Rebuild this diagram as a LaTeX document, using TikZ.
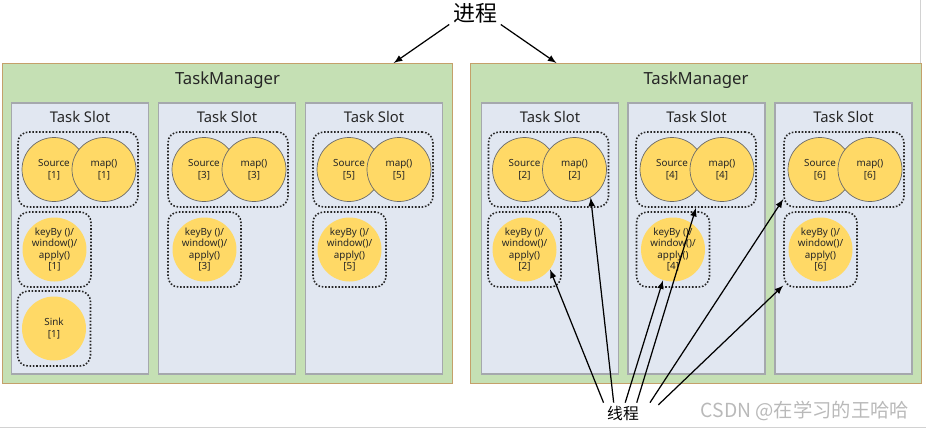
\documentclass[tikz,border=0pt]{standalone}
\usepackage{fontspec}
\setmainfont{Noto Sans}
\newfontfamily\cjk{Noto Sans CJK SC}
\definecolor{tmgreen}{HTML}{C5E0B4}
\definecolor{tmborder}{HTML}{C4A06A}
\definecolor{slotfill}{HTML}{E1E7F1}
\definecolor{slotborder}{HTML}{A5A8AD}
\definecolor{opfill}{HTML}{FFD966}
\definecolor{opborder}{HTML}{6B6B6B}
\definecolor{txt}{HTML}{262626}
\tikzset{>=latex,
    manager/.style={draw=tmborder,fill=tmgreen,line width=0.6pt,
        minimum width=9.02cm,minimum height=6.4cm},
    slot/.style={draw=slotborder,fill=slotfill,line width=0.8pt,
        minimum width=2.74cm,minimum height=5.42cm},
    chain/.style={draw=black!85,densely dotted,line width=0.9pt,rounded corners=6pt,
        minimum width=2.4cm,minimum height=1.5cm},
    group/.style={chain,minimum width=1.46cm},
    op/.style={circle,fill=opfill,draw=opborder,line width=0.4pt,minimum size=1.28cm,
        inner sep=0pt,align=center,text=txt,font=\fontsize{5.6}{6.6}\selectfont},
    solo/.style={op,draw=none},
    title/.style={text=txt,font=\fontsize{8.4}{10}\selectfont},
    thread/.style={->,line width=0.7pt},
    }

\begin{document}
\begin{tikzpicture}[x=0.02cm,y=-0.02cm]
	\useasboundingbox (0,0) rectangle (926,430);
	\draw[gray!35] (0,427) -- (926,427);
	\draw[gray!35] (920,0) -- (920,64);
	% process
	\node[inner sep=2pt,font=\cjk\fontsize{12.5}{14}\selectfont] (p) at (475,13) {进程};
	% left TaskManager
	\node[manager] (tm1) at (227.5,223.5) {};
	\node[text=txt,font=\fontsize{9.5}{11}\selectfont] (n1) at (227.5,80) {TaskManager};
	\node[slot] (s1) at (80,238.5) {};
	\node[slot] (s3) at (227,238.5) {};
	\node[slot] (s5) at (374,238.5) {};
	\node[title] (l1) at (80,117) {Task Slot};
	\node[title] (l3) at (227,117) {Task Slot};
	\node[title] (l5) at (374,117) {Task Slot};
	\node[chain] (g1) at (78,169.5) {};
	\node[op] (r1) at (54,169.5) {Source\\{[1]}};
	\node[op] (m1) at (104,169.5) {map()\\{[1]}};
	\node[group] (h1) at (54.5,249.5) {};
	\node[solo] (k1) at (54.5,249.5) {keyBy ()/\\window()/\\apply()\\{[1]}};
	\node[group] (h0) at (54,328.5) {};
	\node[solo] (z1) at (54,328.5) {Sink\\{[1]}};
	\node[chain] (g3) at (228,169.5) {};
	\node[op] (r3) at (204,169.5) {Source\\{[3]}};
	\node[op] (m3) at (254,169.5) {map()\\{[3]}};
	\node[group] (h3) at (204.5,249.5) {};
	\node[solo] (k3) at (204.5,249.5) {keyBy ()/\\window()/\\apply()\\{[3]}};
	\node[chain] (g5) at (373,169.5) {};
	\node[op] (r5) at (349,169.5) {Source\\{[5]}};
	\node[op] (m5) at (399,169.5) {map()\\{[5]}};
	\node[group] (h5) at (349.5,249.5) {};
	\node[solo] (k5) at (349.5,249.5) {keyBy ()/\\window()/\\apply()\\{[5]}};
	% right TaskManager
	\node[manager] (tm2) at (696,223.5) {};
	\node[text=txt,font=\fontsize{9.5}{11}\selectfont] (n2) at (696,80) {TaskManager};
	\node[slot] (s2) at (550,238.5) {};
	\node[slot] (s4) at (696.5,238.5) {};
	\node[slot] (s6) at (843.5,238.5) {};
	\node[title] (l2) at (550,117) {Task Slot};
	\node[title] (l4) at (696.5,117) {Task Slot};
	\node[title] (l6) at (843.5,117) {Task Slot};
	\node[chain] (g2) at (548.5,169.5) {};
	\node[op] (r2) at (524.5,169.5) {Source\\{[2]}};
	\node[op] (m2) at (574.5,169.5) {map()\\{[2]}};
	\node[group] (h2) at (524.5,249.5) {};
	\node[solo] (k2) at (524.5,249.5) {keyBy ()/\\window()/\\apply()\\{[2]}};
	\node[chain] (g4) at (696,169.5) {};
	\node[op] (r4) at (672,169.5) {Source\\{[4]}};
	\node[op] (m4) at (722,169.5) {map()\\{[4]}};
	\node[group] (h4) at (673,249.5) {};
	\node[solo] (k4) at (673,249.5) {keyBy ()/\\window()/\\apply()\\{[4]}};
	\node[chain] (g6) at (844,169.5) {};
	\node[op] (r6) at (820,169.5) {Source\\{[6]}};
	\node[op] (m6) at (870,169.5) {map()\\{[6]}};
	\node[group] (h6) at (820.5,249.5) {};
	\node[solo] (k6) at (820.5,249.5) {keyBy ()/\\window()/\\apply()\\{[6]}};
	% threads
	\node[minimum width=1.4cm,minimum height=0.4cm,inner sep=0pt,
		font=\cjk\fontsize{9}{11}\selectfont] (t) at (623,413) {线程};
	\node[text=gray!55,font=\cjk\fontsize{11}{13}\selectfont] (w) at (805,411) {CSDN @在学习的王哈哈};
	\draw[thread] (p.-156) -- (tm1.44);
	\draw[thread] (p.-24) -- (tm2.131.5);
	\draw[thread] (t.152) -- (k2.-38);
	\draw[thread] (t.132) -- (m2.-60);
	\draw[thread] (t.78) -- (k4.-108);
	\draw[thread] (t.37) -- (g4.south);
	\draw[thread] (t.21) -- (g6.-154);
	\draw[thread] (t.13) -- (h6.-136);
\end{tikzpicture}
\end{document}
